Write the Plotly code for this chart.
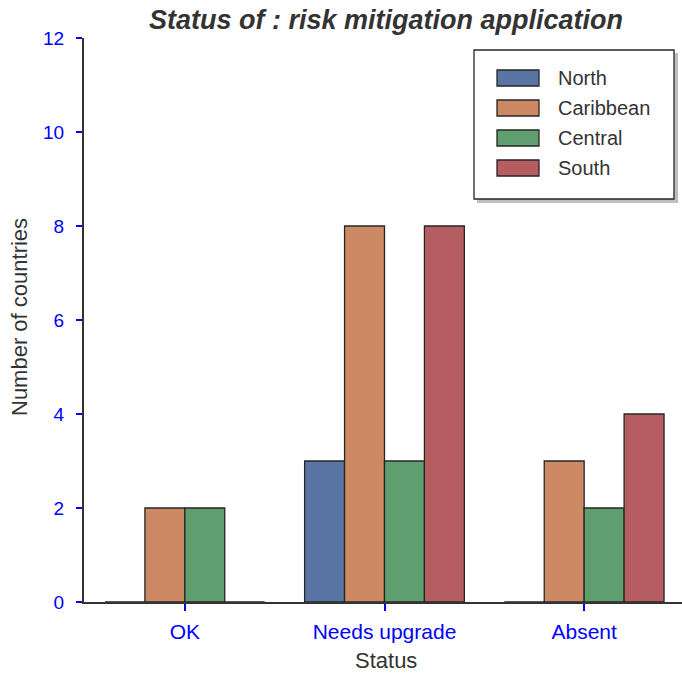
import plotly.graph_objects as go

categories = ["OK", "Needs upgrade", "Absent"]
regions = ["North", "Caribbean", "Central", "South"]
north = [0, 3, 0]
caribbean = [2, 8, 3]
central = [2, 3, 2]
south = [0, 8, 4]
y_ticks = [0, 2, 4, 6, 8, 10, 12]

series = [north, caribbean, central, south]
colors = ["#5975A4", "#CC8963", "#5F9E6E", "#B55D60"]

W, H = 682, 675
L, R, T, B = 84, 0, 38, 73
FONT = "Liberation Sans, Arial"

fig = go.Figure()
xpos = list(range(len(categories)))
for name, vals, col in zip(regions, series, colors):
    fig.add_trace(go.Bar(
        x=xpos, y=vals, name=name, showlegend=False,
        marker=dict(color=col, line=dict(color="#262626", width=1.3)),
    ))

# custom legend (paper coords)
shapes = []
annotations = []
pw = W - L - R
ph = H - T - B
def px(x):
    return (x - L) / pw
def py(y):
    return (H - B - y) / ph

# shadow
shapes.append(dict(type="rect", xref="paper", yref="paper",
                   x0=px(477), x1=px(678), y0=py(203), y1=py(53),
                   fillcolor="#8a8a8a", line=dict(width=0), layer="above", opacity=0.55))
shapes.append(dict(type="rect", xref="paper", yref="paper",
                   x0=px(474), x1=px(674), y0=py(199), y1=py(50),
                   fillcolor="white", line=dict(color="#262626", width=1.3), layer="above"))
for i, (name, col) in enumerate(zip(regions, colors)):
    cy = 78 + 30 * i
    shapes.append(dict(type="rect", xref="paper", yref="paper",
                       x0=px(497), x1=px(539), y0=py(cy + 8), y1=py(cy - 8),
                       fillcolor=col, line=dict(color="#262626", width=1.3), layer="above"))
    annotations.append(dict(xref="paper", yref="paper", x=px(556), y=py(cy),
                            text=name, showarrow=False, xanchor="left", yanchor="middle",
                            font=dict(family=FONT, size=20, color="#333333")))

annotations.append(dict(xref="paper", yref="paper", x=px(386), y=py(660),
                        text="Status", showarrow=False, xanchor="center", yanchor="middle",
                        font=dict(family=FONT, size=22, color="#333333")))
annotations.append(dict(xref="paper", yref="paper", x=px(19), y=py(317),
                        text="Number of countries", showarrow=False, textangle=-90,
                        xanchor="center", yanchor="middle",
                        font=dict(family=FONT, size=22, color="#333333")))
annotations.append(dict(xref="paper", yref="paper", x=px(386), y=py(20),
                        text="<b><i>Status of : risk mitigation application</i></b>",
                        showarrow=False, xanchor="center", yanchor="middle",
                        font=dict(family=FONT, size=27, color="#333333")))

fig.update_layout(
    width=W, height=H,
    margin=dict(l=L, r=R, t=T, b=B),
    paper_bgcolor="white", plot_bgcolor="white",
    barmode="group", bargap=0.2, bargroupgap=0,
    shapes=shapes, annotations=annotations,
    font=dict(family=FONT, color="#333333"),
)
fig.update_xaxes(
    range=[-0.505, 2.49], tickvals=xpos, ticktext=categories,
    showgrid=False, zeroline=False, showline=True, linecolor="#333333", linewidth=2,
    ticks="outside", ticklen=7, tickwidth=2, tickcolor="blue",
    ticklabelstandoff=3, layer="above traces",
    tickfont=dict(family=FONT, size=21, color="blue"),
)
fig.update_yaxes(
    range=[0, 12], tickvals=y_ticks,
    showgrid=False, zeroline=False, showline=True, linecolor="#333333", linewidth=2,
    ticks="outside", ticklen=6, tickwidth=2, tickcolor="blue",
    ticklabelstandoff=8, layer="above traces",
    tickfont=dict(family=FONT, size=19, color="blue"),
)

fig.write_html("out.html", config={"displayModeBar": False},
               post_script="document.body.style.margin='0';document.body.style.overflow='hidden';")
